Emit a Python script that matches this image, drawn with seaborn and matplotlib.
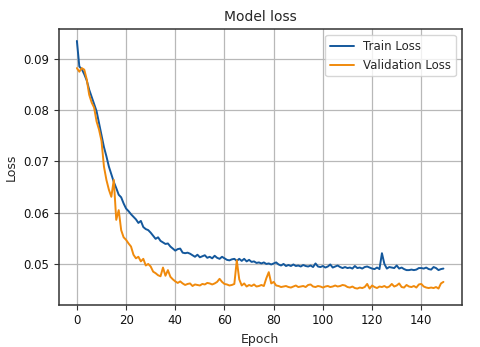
import matplotlib
matplotlib.use('Agg')
import matplotlib.pyplot as plt
import numpy as np
import pandas as pd
import seaborn as sns

train_loss = [
    0.0935, 0.0885, 0.0880, 0.0870, 0.0858, 0.0840, 0.0826, 0.0812, 0.0798, 0.0775,
    0.0752, 0.0728, 0.0710, 0.0690, 0.0675, 0.0660, 0.0648, 0.0635, 0.0630, 0.0618,
    0.0608, 0.0603, 0.0597, 0.0592, 0.0587, 0.0580, 0.0584, 0.0572, 0.0568, 0.0566,
    0.0561, 0.0555, 0.0549, 0.0552, 0.0545, 0.0542, 0.0539, 0.0540, 0.0534, 0.0530,
    0.0526, 0.0529, 0.0530, 0.0522, 0.0521, 0.0522, 0.0520, 0.0517, 0.0514, 0.0518,
    0.0513, 0.0515, 0.0517, 0.0512, 0.0514, 0.0511, 0.0516, 0.0512, 0.0510, 0.0514,
    0.0511, 0.0508, 0.0507, 0.0509, 0.0510, 0.0506, 0.0510, 0.0506, 0.0510, 0.0505,
    0.0508, 0.0504, 0.0505, 0.0502, 0.0503, 0.0501, 0.0503, 0.0500, 0.0501, 0.0499,
    0.0501, 0.0503, 0.0499, 0.0497, 0.0500, 0.0496, 0.0498, 0.0496, 0.0499, 0.0496,
    0.0497, 0.0495, 0.0498, 0.0496, 0.0495, 0.0497, 0.0494, 0.0501, 0.0495, 0.0494,
    0.0496, 0.0493, 0.0495, 0.0499, 0.0493, 0.0495, 0.0497, 0.0494, 0.0492, 0.0494,
    0.0492, 0.0493, 0.0491, 0.0496, 0.0492, 0.0493, 0.0491, 0.0494, 0.0495, 0.0493,
    0.0491, 0.0490, 0.0493, 0.0490, 0.0521, 0.0500, 0.0491, 0.0494, 0.0493, 0.0492,
    0.0497, 0.0491, 0.0493, 0.0490, 0.0488, 0.0488, 0.0489, 0.0488, 0.0489, 0.0492,
    0.0492, 0.0491, 0.0493, 0.0490, 0.0489, 0.0494, 0.0492, 0.0488, 0.0490, 0.0491,
]

val_loss = [
    0.0882, 0.0875, 0.0882, 0.0879, 0.0860, 0.0830, 0.0815, 0.0805, 0.0778, 0.0762,
    0.0740, 0.0690, 0.0664, 0.0645, 0.0631, 0.0664, 0.0586, 0.0605, 0.0566, 0.0552,
    0.0547, 0.0540, 0.0534, 0.0518, 0.0511, 0.0514, 0.0505, 0.0510, 0.0497, 0.0500,
    0.0495, 0.0485, 0.0482, 0.0478, 0.0476, 0.0493, 0.0477, 0.0488, 0.0475, 0.0470,
    0.0466, 0.0463, 0.0466, 0.0462, 0.0459, 0.0461, 0.0462, 0.0457, 0.0460, 0.0459,
    0.0458, 0.0461, 0.0460, 0.0463, 0.0462, 0.0460, 0.0462, 0.0465, 0.0471, 0.0465,
    0.0461, 0.0460, 0.0458, 0.0459, 0.0461, 0.0507, 0.0470, 0.0458, 0.0462, 0.0456,
    0.0459, 0.0457, 0.0460, 0.0456, 0.0457, 0.0459, 0.0457, 0.0472, 0.0484, 0.0462,
    0.0465, 0.0458, 0.0457, 0.0455, 0.0456, 0.0457, 0.0455, 0.0454, 0.0456, 0.0458,
    0.0455, 0.0456, 0.0457, 0.0455, 0.0459, 0.0460, 0.0456, 0.0455, 0.0457, 0.0456,
    0.0454, 0.0456, 0.0457, 0.0455, 0.0456, 0.0458, 0.0456, 0.0457, 0.0459, 0.0458,
    0.0455, 0.0454, 0.0456, 0.0453, 0.0452, 0.0454, 0.0453, 0.0455, 0.0461, 0.0452,
    0.0458, 0.0455, 0.0453, 0.0456, 0.0455, 0.0457, 0.0454, 0.0456, 0.0461, 0.0456,
    0.0458, 0.0462, 0.0455, 0.0454, 0.0459, 0.0456, 0.0455, 0.0457, 0.0454, 0.0460,
    0.0461, 0.0456, 0.0454, 0.0453, 0.0454, 0.0453, 0.0455, 0.0452, 0.0462, 0.0465,
]

epochs = np.arange(len(train_loss))


def main():
    df = pd.DataFrame({'Epoch': epochs, 'Train Loss': train_loss,
                       'Validation Loss': val_loss})

    sns.set_style('ticks')
    plt.rcParams['font.family'] = ['DejaVu Sans']

    f, ax = plt.subplots(figsize=(4.8, 3.47), dpi=100)
    f.subplots_adjust(left=0.122, right=0.962, bottom=0.122, top=0.916)

    sns.lineplot(data=df, x='Epoch', y='Train Loss', ax=ax,
                 color='#14589c', linewidth=1.4, label='Train Loss')
    sns.lineplot(data=df, x='Epoch', y='Validation Loss', ax=ax,
                 color='#f08a0c', linewidth=1.4, label='Validation Loss')

    ax.set_ylim(0.04206, 0.0958)
    ax.set_xticks(range(0, 141, 20))
    ax.set_yticks([0.05, 0.06, 0.07, 0.08, 0.09])
    ax.grid(True, color='#b8b8b8', linewidth=0.9)
    for s in ax.spines.values():
        s.set_color('#333333')
        s.set_linewidth(1.1)
    ax.tick_params(labelsize=8.5, length=3.5, color='#333333', labelcolor='#111111')

    ax.set_title('Model loss', fontsize=10)
    ax.set_xlabel('Epoch', fontsize=9)
    ax.set_ylabel('Loss', fontsize=9)
    ax.legend(loc='upper right', fontsize=8.5, frameon=True)

    plt.savefig('out.png', format='png')


if __name__ == "__main__":
    main()
